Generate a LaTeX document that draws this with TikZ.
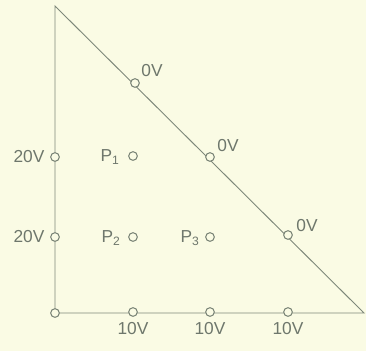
\documentclass[tikz,border=0pt]{standalone}
\usepackage{fontspec}
\setmainfont{Liberation Sans}
\definecolor{paper}{HTML}{FAFBE4}
\definecolor{ink}{HTML}{7E887A}
\definecolor{txt}{HTML}{6E776C}
\begin{document}
\begin{tikzpicture}[x=0.75pt,y=-0.75pt,
  dot/.style={circle,draw=ink,line width=0.8pt,fill=paper,minimum size=6.5pt,inner sep=0pt},
  lbl/.style={text=txt,font=\fontsize{13}{14}\selectfont,inner sep=0pt},
  edge/.style={draw=ink,line width=0.7pt}]
\fill[paper] (0,0) rectangle (366,351);
\useasboundingbox (0,0) rectangle (366,351);
% vertices
\coordinate (T) at (55,6);
\coordinate (BL) at (55,313);
\coordinate (BR) at (364,313);
\draw[edge] (T) -- (BL) -- (BR) -- cycle;
% hypotenuse points
\node[dot] (h1) at (135,83) {};
\node[dot] (h2) at (210,157) {};
\node[dot] (h3) at (288,235) {};
\node[lbl] (h1l) at (152,71) {0V};
\node[lbl] (h2l) at (228,146) {0V};
\node[lbl] (h3l) at (307,226) {0V};
% left points
\node[dot] (l1) at (55,157) {};
\node[dot] (l2) at (55,237) {};
\node[lbl] (l1l) at (29,157) {20V};
\node[lbl] (l2l) at (29,237) {20V};
% interior
\node[dot] (p1) at (133,156) {};
\node[dot] (p2) at (133,237) {};
\node[dot] (p3) at (210,237) {};
\node[lbl] (p1l) at (110,157) {P\textsubscript{1}};
\node[lbl] (p2l) at (111,238) {P\textsubscript{2}};
\node[lbl] (p3l) at (190,238) {P\textsubscript{3}};
% bottom
\node[dot] (b0) at (55,313) {};
\node[dot] (b1) at (133,312) {};
\node[dot] (b2) at (210,312) {};
\node[dot] (b3) at (288,312) {};
\node[lbl] (b1l) at (133,329) {10V};
\node[lbl] (b2l) at (210,329) {10V};
\node[lbl] (b3l) at (288,329) {10V};
\end{tikzpicture}
\end{document}
